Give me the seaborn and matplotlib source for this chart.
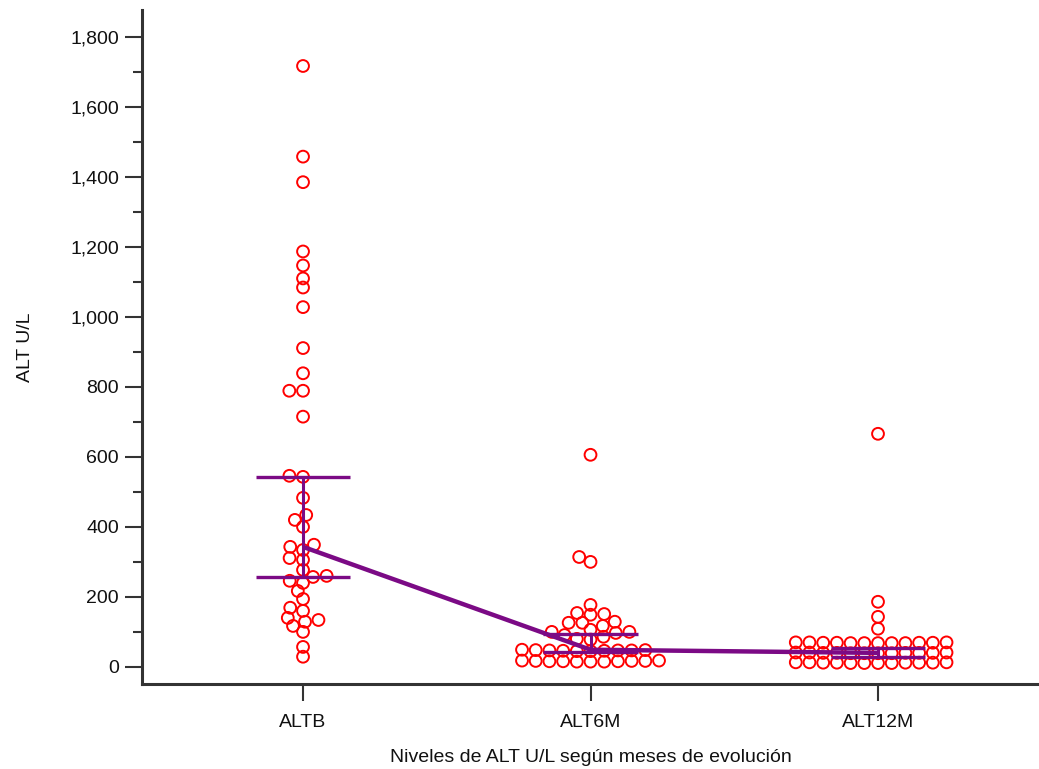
import numpy as np
import pandas as pd
import matplotlib
matplotlib.use("Agg")
import matplotlib.pyplot as plt
from matplotlib.ticker import MultipleLocator, FuncFormatter
import seaborn as sns

# ---- data ----
categories = ["ALTB", "ALT6M", "ALT12M"]

altb = [1717, 1458, 1385, 1187, 1147, 1110, 1084, 1028, 911, 839, 789, 789, 715,
        546, 543, 483, 434, 420, 400, 349, 343, 334, 311, 306, 277, 260, 257, 246,
        240, 217, 194, 169, 160, 140, 134, 129, 117, 100, 57, 29]

alt6m = [606, 314, 300,
         177, 154, 151, 149, 129, 126, 126, 117, 106, 100, 100, 97, 91, 86, 80, 78,
         49, 48, 48, 47, 47, 47, 46, 46, 45, 45,
         18, 18, 17, 17, 17, 16, 16, 16, 15, 15, 15]

alt12m = [666, 186, 143, 109,
          70, 70, 70, 69, 69, 69, 69, 68, 68, 68, 68, 68,
          41, 41, 41, 40, 40, 40, 40, 40, 39, 39, 39, 39,
          13, 13, 13, 12, 12, 12, 12, 12, 11, 11, 11, 11]

# summary statistics drawn in purple (median and interval)
medians = [343, 49, 40]
ci_low = [257, 43, 29]
ci_high = [543, 94, 54]

y_ticks = [0, 200, 400, 600, 800, 1000, 1200, 1400, 1600, 1800]

df = pd.DataFrame({
    "group": (["ALTB"] * len(altb)) + (["ALT6M"] * len(alt6m)) + (["ALT12M"] * len(alt12m)),
    "value": altb + alt6m + alt12m,
})

# ---- style ----
sns.set_theme(style="ticks")
plt.rcParams["font.family"] = ["Liberation Sans", "DejaVu Sans"]

fig = plt.figure(figsize=(10.39, 7.69), dpi=100)
ax = fig.add_axes([0.1367, 0.1105, 0.8633, 0.8765])

layout_size = 8.0    # marker size used for the swarm layout
display_size = 8.5   # marker size actually shown
edge_w = 1.4
y_lim = (-49, 1877)
stretch = 1.5        # vertical stretch during layout -> circles may overlap vertically (GraphPad look)

sns.swarmplot(data=df, x="group", y="value", order=categories, ax=ax,
              size=layout_size, color="red", linewidth=edge_w, edgecolor="red", zorder=2)

purple = "#7B0A85"
xs = np.arange(len(categories))
hw = 0.165
for x, lo, hi in zip(xs, ci_low, ci_high):
    ax.plot([x - hw, x + hw], [lo, lo], color=purple, lw=2.4, zorder=3, solid_capstyle="butt")
    ax.plot([x - hw, x + hw], [hi, hi], color=purple, lw=2.4, zorder=3, solid_capstyle="butt")
    ax.plot([x, x], [lo, hi], color=purple, lw=2.2, zorder=3)
ax.plot(xs, medians, color=purple, lw=3.2, zorder=4, solid_capstyle="butt")

ax.set_xlim(-0.56, 2.56)
ax.set_yticks(y_ticks)
ax.yaxis.set_minor_locator(MultipleLocator(100))
ax.yaxis.set_major_formatter(FuncFormatter(lambda v, p: f"{int(v):,}"))

sns.despine(ax=ax)
for s in ["left", "bottom"]:
    ax.spines[s].set_color("#333333")
    ax.spines[s].set_linewidth(2.2)

ax.tick_params(axis="both", which="major", length=12.5, width=1.5, color="#333333",
               labelsize=14, labelcolor="#111111")
ax.tick_params(axis="y", which="minor", length=6.5, width=1.5, color="#333333")
ax.tick_params(axis="x", which="major", pad=9)
ax.tick_params(axis="y", which="major", pad=4)

ax.set_xlabel("Niveles de ALT U/L según meses de evolución", fontsize=14, color="#111111", labelpad=13)
ax.set_ylabel("ALT U/L", fontsize=14, color="#111111", labelpad=26)

# lay out the swarm on a vertically stretched scale, then freeze positions
ax.set_ylim(y_lim[0], y_lim[0] + (y_lim[1] - y_lim[0]) / stretch)
fig.canvas.draw()
for coll in ax.collections:
    if "draw" in coll.__dict__:
        del coll.draw
    coll.set_sizes([display_size ** 2])
    coll.set_facecolor("none")
    coll.set_edgecolor("red")
    coll.set_linewidth(edge_w)
ax.set_ylim(*y_lim)

fig.savefig("out.png", dpi=100)
